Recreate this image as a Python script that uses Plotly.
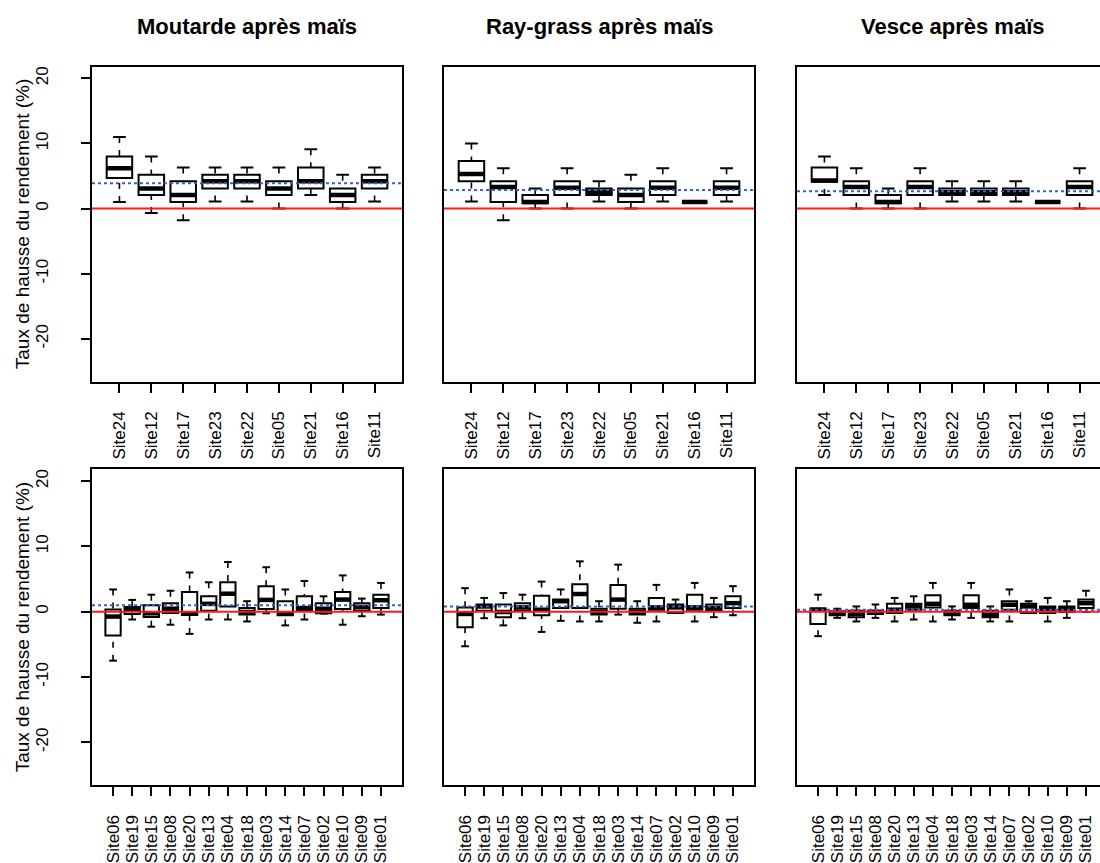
import plotly.graph_objects as go

# ---------------- data ----------------
titles = ["Moutarde après maïs", "Ray-grass après maïs", "Vesce après maïs"]
y_label = "Taux de hausse du rendement (%)"
y_ticks = [-20, -10, 0, 10, 20]

sites_top = ["Site24", "Site12", "Site17", "Site23", "Site22", "Site05", "Site21", "Site16", "Site11"]
sites_bot = ["Site06", "Site19", "Site15", "Site08", "Site20", "Site13", "Site04", "Site18",
             "Site03", "Site14", "Site07", "Site02", "Site10", "Site09", "Site01"]

# top row: (lower whisker, q1, median, q3, upper whisker)
mout_top_lo = [1.0, -0.7, -1.8, 1.1, 1.1, 0.0, 2.1, 0.0, 1.1]
mout_top_q1 = [4.7, 2.1, 1.0, 3.1, 3.1, 2.1, 3.1, 1.0, 3.1]
mout_top_med = [6.2, 3.1, 2.1, 4.2, 4.2, 3.1, 4.2, 2.1, 4.2]
mout_top_q3 = [8.0, 5.2, 4.2, 5.2, 5.2, 4.2, 6.3, 3.1, 5.2]
mout_top_hi = [11.0, 8.0, 6.3, 6.3, 6.3, 6.3, 9.1, 5.2, 6.3]
mout_top_mean = 3.9

ray_top_lo = [1.1, -1.8, 0.0, 0.0, 1.1, 0.0, 1.1, 1.0, 1.1]
ray_top_q1 = [4.2, 1.0, 0.8, 2.1, 2.1, 1.0, 2.1, 1.0, 2.1]
ray_top_med = [5.3, 3.3, 1.0, 3.2, 2.6, 2.1, 3.2, 1.0, 3.2]
ray_top_q3 = [7.3, 4.2, 2.1, 4.2, 3.1, 3.1, 4.2, 1.0, 4.2]
ray_top_hi = [10.0, 6.2, 3.1, 6.2, 4.2, 5.2, 6.2, 1.0, 6.2]
ray_top_mean = 2.85

vesce_top_lo = [2.1, 0.0, 0.0, 0.0, 1.1, 1.1, 1.1, 1.0, 0.0]
vesce_top_q1 = [4.1, 2.1, 0.8, 2.1, 2.1, 2.1, 2.1, 1.0, 2.1]
vesce_top_med = [4.3, 3.3, 1.0, 3.3, 2.5, 2.5, 2.5, 1.0, 3.3]
vesce_top_q3 = [6.3, 4.2, 2.1, 4.2, 3.1, 3.1, 3.1, 1.0, 4.2]
vesce_top_hi = [8.0, 6.2, 3.1, 6.2, 4.2, 4.2, 4.2, 1.0, 6.2]
vesce_top_mean = 2.65

# bottom row
mout_bot_lo = [-7.5, -1.2, -2.3, -2.0, -3.4, -1.2, -1.2, -1.5, -0.25, -2.1, -1.2, -0.3, -2.0, -0.7, -0.45]
mout_bot_q1 = [-3.65, -0.35, -0.8, -0.2, -0.5, 0.15, 0.8, -0.45, 0.4, -0.55, 0.15, -0.25, 0.4, 0.15, 0.55]
mout_bot_med = [-0.75, 0.35, -0.25, 0.45, -0.25, 1.2, 2.75, -0.05, 1.8, -0.25, 0.55, 0.45, 1.85, 0.7, 1.75]
mout_bot_q3 = [0.35, 0.7, 1.0, 1.3, 3.0, 2.35, 4.5, 0.55, 3.9, 1.6, 2.35, 1.3, 3.0, 1.3, 2.6]
mout_bot_hi = [3.4, 1.8, 2.6, 3.2, 6.0, 4.5, 7.6, 1.6, 6.8, 3.4, 4.7, 2.35, 5.55, 2.0, 4.4]
mout_bot_mean = 1.0

ray_bot_lo = [-5.3, -1.0, -2.1, -1.0, -3.1, -1.4, -1.5, -1.5, -0.45, -1.7, -1.5, -0.2, -1.5, -0.85, -0.55]
ray_bot_q1 = [-2.4, 0.15, -0.85, 0.15, -0.55, 0.55, 0.55, -0.45, 0.45, -0.45, 0.3, -0.2, 0.3, 0.15, 0.55]
ray_bot_med = [-0.35, 0.8, -0.05, 0.65, 0.3, 1.6, 2.7, -0.05, 1.85, -0.05, 0.65, 0.65, 0.65, 0.55, 1.3]
ray_bot_q3 = [0.65, 1.1, 1.1, 1.3, 2.45, 1.85, 4.2, 0.45, 4.1, 0.45, 2.1, 1.1, 2.6, 1.1, 2.35]
ray_bot_hi = [3.6, 2.1, 2.85, 2.6, 4.6, 3.4, 7.7, 1.6, 7.2, 1.6, 4.1, 1.85, 4.4, 2.1, 3.9]
ray_bot_mean = 0.8

vesce_bot_lo = [-3.75, -0.95, -1.5, -0.95, -1.5, -1.2, -1.5, -1.2, -0.95, -1.5, -1.5, -0.2, -1.5, -0.95, -0.05]
vesce_bot_q1 = [-1.9, -0.55, -0.85, -0.35, -0.2, 0.3, 0.65, -0.55, 0.55, -0.85, 0.3, -0.2, -0.2, -0.05, 0.55]
vesce_bot_med = [0.3, -0.25, -0.35, -0.05, 0.3, 0.8, 1.2, -0.2, 1.05, -0.45, 1.05, 0.8, 0.45, 0.45, 1.3]
vesce_bot_q3 = [0.5, 0.05, 0.15, 0.15, 1.2, 1.2, 2.5, 0.15, 2.5, 0.15, 1.6, 1.2, 0.8, 0.8, 1.85]
vesce_bot_hi = [2.6, 0.45, 0.8, 1.1, 2.1, 2.35, 4.4, 0.8, 4.4, 0.8, 3.4, 1.6, 2.1, 1.6, 3.2]
vesce_bot_mean = 0.3

panels = [
    (sites_top, mout_top_lo, mout_top_q1, mout_top_med, mout_top_q3, mout_top_hi, mout_top_mean),
    (sites_top, ray_top_lo, ray_top_q1, ray_top_med, ray_top_q3, ray_top_hi, ray_top_mean),
    (sites_top, vesce_top_lo, vesce_top_q1, vesce_top_med, vesce_top_q3, vesce_top_hi, vesce_top_mean),
    (sites_bot, mout_bot_lo, mout_bot_q1, mout_bot_med, mout_bot_q3, mout_bot_hi, mout_bot_mean),
    (sites_bot, ray_bot_lo, ray_bot_q1, ray_bot_med, ray_bot_q3, ray_bot_hi, ray_bot_mean),
    (sites_bot, vesce_bot_lo, vesce_bot_q1, vesce_bot_med, vesce_bot_q3, vesce_bot_hi, vesce_bot_mean),
]

# ---------------- layout geometry (pixels) ----------------
W, H = 1100, 863
col_px = [(92, 402), (444, 754), (797, 1107)]
row_px = [(67, 384), (472, 790)]
Y_RANGE = [-26.6, 21.8]
FONT = "Liberation Sans, Arial, sans-serif"
TICK_SIZE = 17
BOX_HALF = 0.4
CAP_HALF = 0.2

fig = go.Figure()
layout = dict(
    width=W, height=H, margin=dict(l=0, r=0, t=0, b=0),
    paper_bgcolor="white", plot_bgcolor="white", showlegend=False,
    font=dict(family=FONT, size=TICK_SIZE, color="black"),
)
shapes = []
annotations = []

for i, (cats, lo, q1, med, q3, hi, mean) in enumerate(panels):
    r, c = divmod(i, 3)
    n = len(cats)
    ax = i + 1
    xs = list(range(1, n + 1))
    xa = "x" if ax == 1 else f"x{ax}"
    ya = "y" if ax == 1 else f"y{ax}"
    x0p, x1p = col_px[c]
    y0p, y1p = row_px[r]
    full = n * 1.08
    xmin = 0.5 - n * 0.04
    if x1p > W:
        xmax = xmin + full * (W - x0p) / (x1p - x0p)
        x1p = W
    else:
        xmax = xmin + full

    # whiskers (dashed), from extremes towards box
    wx, wy = [], []
    for k in range(n):
        wx += [xs[k], xs[k], None, xs[k], xs[k], None]
        wy += [lo[k], q1[k], None, hi[k], q3[k], None]
    fig.add_trace(go.Scatter(x=wx, y=wy, mode="lines", xaxis=xa, yaxis=ya,
                             line=dict(color="black", width=1.6, dash="6px,7px"),
                             hoverinfo="skip"))
    # staples
    cx, cy = [], []
    for k in range(n):
        cx += [xs[k] - CAP_HALF, xs[k] + CAP_HALF, None, xs[k] - CAP_HALF, xs[k] + CAP_HALF, None]
        cy += [lo[k], lo[k], None, hi[k], hi[k], None]
    fig.add_trace(go.Scatter(x=cx, y=cy, mode="lines", xaxis=xa, yaxis=ya,
                             line=dict(color="black", width=2), hoverinfo="skip"))
    # boxes
    fig.add_trace(go.Box(x=xs, q1=q1, median=med, q3=q3, lowerfence=q1, upperfence=q3,
                         width=2 * BOX_HALF, whiskerwidth=0, fillcolor="white",
                         line=dict(color="black", width=2), xaxis=xa, yaxis=ya,
                         boxpoints=False, hoverinfo="skip"))
    # thick medians
    mx, my = [], []
    for k in range(n):
        mx += [xs[k] - BOX_HALF, xs[k] + BOX_HALF, None]
        my += [med[k], med[k], None]
    fig.add_trace(go.Scatter(x=mx, y=my, mode="lines", xaxis=xa, yaxis=ya,
                             line=dict(color="black", width=4.5), hoverinfo="skip"))

    xkey = "xaxis" if ax == 1 else f"xaxis{ax}"
    ykey = "yaxis" if ax == 1 else f"yaxis{ax}"
    layout[xkey] = dict(
        domain=[x0p / W, x1p / W], range=[xmin, xmax], anchor=ya,
        tickmode="array", tickvals=xs, ticktext=cats, tickangle=-90,
        ticks="outside", ticklen=9, tickwidth=1.5, tickcolor="black",
        ticklabelstandoff=12,
        tickfont=dict(family=FONT, size=TICK_SIZE, color="black"),
        showline=True, mirror=True, linecolor="black", linewidth=1.5,
        showgrid=False, zeroline=False,
    )
    ydict = dict(
        domain=[1 - y1p / H, 1 - y0p / H], range=Y_RANGE, anchor=xa,
        showline=True, mirror=(c != 2), linecolor="black", linewidth=1.5,
        showgrid=False, zeroline=False,
    )
    if c == 0:
        ydict.update(tickmode="array", tickvals=y_ticks, ticktext=[str(v) for v in y_ticks],
                     ticks="outside", ticklen=9, tickwidth=1.5, tickcolor="black",
                     ticklabelstandoff=26,
                     tickangle=-90, tickfont=dict(family=FONT, size=TICK_SIZE, color="black"))
    else:
        ydict.update(showticklabels=False, ticks="")
    layout[ykey] = ydict

    # reference lines
    shapes.append(dict(type="line", xref=f"{xa} domain", yref=ya, x0=0, x1=1, y0=mean, y1=mean,
                       line=dict(color="#3c5fc0", width=2, dash="dot"), layer="above"))
    shapes.append(dict(type="line", xref=f"{xa} domain", yref=ya, x0=0, x1=1, y0=0, y1=0,
                       line=dict(color="#ff1a1a", width=2), layer="above"))

    if r == 0:
        cxp = (col_px[c][0] + col_px[c][1]) / 2
        annotations.append(dict(text=f"<b>{titles[c]}</b>", x=cxp / W, y=1 - 27 / H,
                                xref="paper", yref="paper", showarrow=False,
                                xanchor="center", yanchor="middle",
                                font=dict(family=FONT, size=22, color="black")))
    if c == 0:
        annotations.append(dict(text=y_label, x=22 / W, y=1 - (y0p + y1p) / 2 / H,
                                xref="paper", yref="paper", showarrow=False, textangle=-90,
                                xanchor="center", yanchor="middle",
                                font=dict(family=FONT, size=19, color="black")))

layout["shapes"] = shapes
layout["annotations"] = annotations
fig.update_layout(**layout)
fig.write_html("out.html", config={"displayModeBar": False},
               post_script="document.body.style.margin='0';document.body.style.overflow='hidden';")
